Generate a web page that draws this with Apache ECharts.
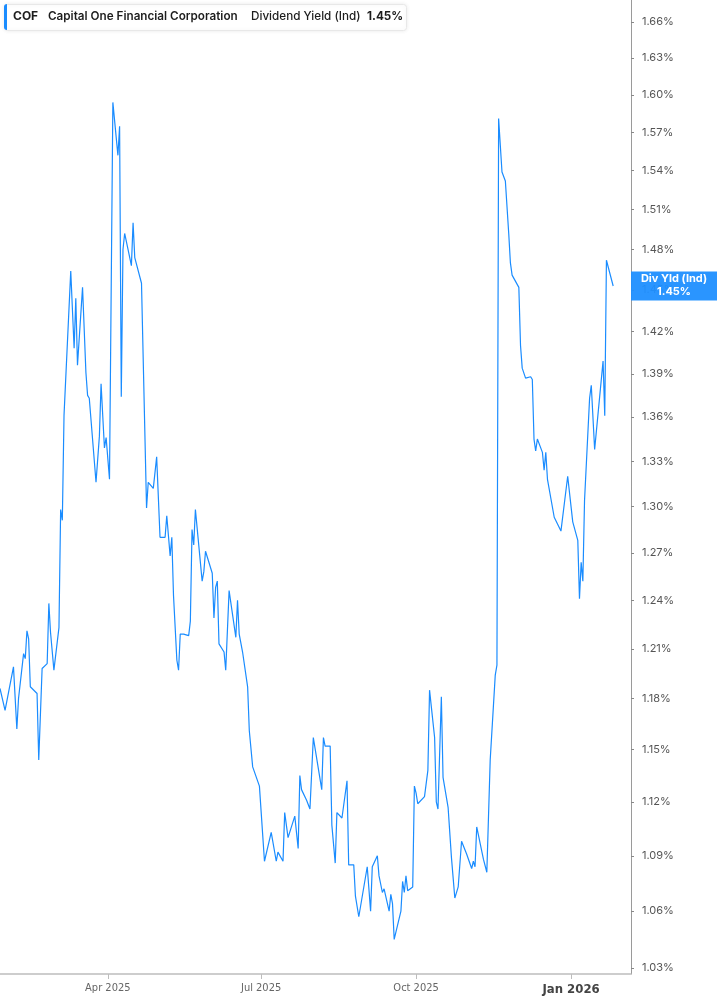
<!DOCTYPE html>
<html>
<head>
<meta charset="utf-8">
<title>COF Dividend Yield</title>
<script src="https://cdn.jsdelivr.net/npm/echarts@6.0.0/dist/echarts.min.js"></script>
<style>
  html, body { margin: 0; padding: 0; background: #fff; }
  #chart { width: 717px; height: 1005px; }
</style>
</head>
<body>
<div id="chart"></div>
<script>
// dividend yield (ind)
const dates = [
  '2025-01-27', '2025-01-30', '2025-02-04', '2025-02-06', '2025-02-07', '2025-02-10', '2025-02-11', '2025-02-12',
  '2025-02-13', '2025-02-14', '2025-02-18', '2025-02-19', '2025-02-21', '2025-02-24', '2025-02-25', '2025-02-26',
  '2025-02-27', '2025-02-28', '2025-03-03', '2025-03-04', '2025-03-05', '2025-03-06', '2025-03-10', '2025-03-12',
  '2025-03-13', '2025-03-14', '2025-03-17', '2025-03-19', '2025-03-20', '2025-03-21', '2025-03-25', '2025-03-27',
  '2025-03-28', '2025-03-30', '2025-03-31', '2025-04-02', '2025-04-04', '2025-04-07', '2025-04-08', '2025-04-09',
  '2025-04-10', '2025-04-11', '2025-04-13', '2025-04-15', '2025-04-16', '2025-04-17', '2025-04-21', '2025-04-24',
  '2025-04-25', '2025-04-28', '2025-04-30', '2025-05-01', '2025-05-02', '2025-05-05', '2025-05-06', '2025-05-08',
  '2025-05-09', '2025-05-10', '2025-05-12', '2025-05-13', '2025-05-14', '2025-05-16', '2025-05-19', '2025-05-20',
  '2025-05-21', '2025-05-22', '2025-05-23', '2025-05-27', '2025-05-28', '2025-05-29', '2025-06-02', '2025-06-03',
  '2025-06-04', '2025-06-05', '2025-06-06', '2025-06-09', '2025-06-10', '2025-06-11', '2025-06-12', '2025-06-16',
  '2025-06-17', '2025-06-18', '2025-06-20', '2025-06-23', '2025-06-24', '2025-06-26', '2025-06-30', '2025-07-03',
  '2025-07-07', '2025-07-10', '2025-07-11', '2025-07-14', '2025-07-15', '2025-07-17', '2025-07-21', '2025-07-23',
  '2025-07-24', '2025-07-25', '2025-07-28', '2025-07-29', '2025-07-30', '2025-07-31', '2025-08-01', '2025-08-06',
  '2025-08-07', '2025-08-08', '2025-08-11', '2025-08-12', '2025-08-13', '2025-08-14', '2025-08-15', '2025-08-18',
  '2025-08-19', '2025-08-20', '2025-08-21', '2025-08-22', '2025-08-25', '2025-08-26', '2025-08-27', '2025-08-28',
  '2025-08-29', '2025-09-02', '2025-09-04', '2025-09-05', '2025-09-08', '2025-09-09', '2025-09-11', '2025-09-12',
  '2025-09-15', '2025-09-16', '2025-09-17', '2025-09-18', '2025-09-22', '2025-09-23', '2025-09-24', '2025-09-25',
  '2025-09-26', '2025-09-29', '2025-09-30', '2025-10-01', '2025-10-02', '2025-10-06', '2025-10-08', '2025-10-09',
  '2025-10-12', '2025-10-13', '2025-10-14', '2025-10-16', '2025-10-17', '2025-10-20', '2025-10-22', '2025-10-23',
  '2025-10-24', '2025-10-26', '2025-10-28', '2025-10-29', '2025-10-31', '2025-11-03', '2025-11-04', '2025-11-05',
  '2025-11-06', '2025-11-10', '2025-11-12', '2025-11-14', '2025-11-17', '2025-11-18', '2025-11-19', '2025-11-20',
  '2025-11-21', '2025-11-23', '2025-11-25', '2025-11-26', '2025-11-27', '2025-12-01', '2025-12-02', '2025-12-03',
  '2025-12-05', '2025-12-08', '2025-12-09', '2025-12-10', '2025-12-11', '2025-12-12', '2025-12-15', '2025-12-16',
  '2025-12-17', '2025-12-18', '2025-12-22', '2025-12-26', '2025-12-30', '2026-01-02', '2026-01-05', '2026-01-06',
  '2026-01-07', '2026-01-08', '2026-01-09', '2026-01-12', '2026-01-13', '2026-01-15', '2026-01-20', '2026-01-21',
  '2026-01-22', '2026-01-26'
];
const yields = [
  1.186, 1.173, 1.199, 1.162, 1.180, 1.207, 1.204, 1.221,
  1.216, 1.187, 1.183, 1.144, 1.198, 1.201, 1.238, 1.220,
  1.219, 1.197, 1.223, 1.298, 1.291, 1.361, 1.464, 1.408,
  1.444, 1.396, 1.452, 1.391, 1.375, 1.373, 1.316, 1.347,
  1.383, 1.339, 1.346, 1.318, 1.594, 1.552, 1.575, 1.374,
  1.480, 1.492, 1.480, 1.468, 1.500, 1.474, 1.455, 1.299,
  1.316, 1.312, 1.333, 1.333, 1.280, 1.280, 1.294, 1.268,
  1.280, 1.243, 1.203, 1.197, 1.219, 1.219, 1.218, 1.227,
  1.285, 1.275, 1.298, 1.252, 1.258, 1.271, 1.257, 1.229,
  1.248, 1.252, 1.213, 1.208, 1.197, 1.198, 1.246, 1.217,
  1.240, 1.219, 1.208, 1.187, 1.161, 1.140, 1.129, 1.087,
  1.103, 1.087, 1.092, 1.087, 1.114, 1.100, 1.112, 1.094,
  1.135, 1.127, 1.121, 1.122, 1.116, 1.116, 1.157, 1.127,
  1.157, 1.152, 1.152, 1.107, 1.106, 1.086, 1.114, 1.111,
  1.118, 1.118, 1.132, 1.085, 1.085, 1.068, 1.068, 1.057,
  1.057, 1.084, 1.060, 1.084, 1.090, 1.079, 1.070, 1.072,
  1.060, 1.069, 1.064, 1.045, 1.060, 1.076, 1.070, 1.079,
  1.071, 1.073, 1.129, 1.125, 1.119, 1.123, 1.138, 1.185,
  1.157, 1.120, 1.116, 1.181, 1.134, 1.117, 1.089, 1.089,
  1.067, 1.073, 1.098, 1.098, 1.091, 1.083, 1.087, 1.084,
  1.106, 1.088, 1.081, 1.144, 1.194, 1.200, 1.581, 1.582,
  1.539, 1.532, 1.492, 1.470, 1.461, 1.452, 1.410, 1.394,
  1.387, 1.388, 1.386, 1.345, 1.337, 1.345, 1.336, 1.324,
  1.336, 1.318, 1.293, 1.284, 1.320, 1.290, 1.278, 1.241,
  1.264, 1.252, 1.304, 1.373, 1.382, 1.338, 1.399, 1.361,
  1.472, 1.453
];
const yTicks = [1.03, 1.06, 1.09, 1.12, 1.15, 1.18, 1.21, 1.24, 1.27, 1.30, 1.33,
  1.36, 1.39, 1.42, 1.45, 1.48, 1.51, 1.54, 1.57, 1.60, 1.63, 1.66];
const monthNames = ['Jan', 'Feb', 'Mar', 'Apr', 'May', 'Jun', 'Jul', 'Aug', 'Sep', 'Oct', 'Nov', 'Dec'];

const ticker = 'COF';
const company = 'Capital One Financial Corporation';
const metric = 'Dividend Yield (Ind)';
const shortMetric = 'Div Yld (Ind)';

const lineColor = '#1a8cff';
const lastVal = yields[yields.length - 1].toFixed(2) + '%';
const DAY = 24 * 3600 * 1000;

const chart = echarts.init(document.getElementById('chart'));

const option = {
  animation: false,
  backgroundColor: '#fff',
  grid: {
    left: 0,
    right: 86,
    top: 0,
    bottom: 31,
    containLabel: false,
    outerBoundsMode: 'none'
  },
  xAxis: {
    type: 'time',
    min: '2025-01-27',
    max: '2026-02-05T14:00:00',
    // quarterly ticks
    splitNumber: 4,
    minInterval: 95 * DAY,
    maxInterval: 120 * DAY,
    splitLine: { show: false },
    axisLine: { show: true, lineStyle: { color: '#bdbdbd', width: 1.5 } },
    axisTick: { show: true, length: 5, lineStyle: { color: '#bdbdbd' } },
    axisLabel: {
      margin: 9,
      color: '#666',
      fontSize: 11,
      fontFamily: 'Liberation Sans Narrow, DejaVu Sans Condensed, sans-serif',
      formatter: function (val) {
        const d = new Date(val);
        const s = monthNames[d.getMonth()] + ' ' + d.getFullYear();
        return d.getMonth() === 0 ? '{yr|' + s + '}' : s;
      },
      rich: {
        yr: {
          fontSize: 13,
          fontWeight: 'bold',
          color: '#444',
          fontFamily: 'Liberation Sans Narrow, DejaVu Sans Condensed, sans-serif'
        }
      }
    }
  },
  yAxis: {
    type: 'log',
    logBase: 10,
    position: 'right',
    min: 1.0269,
    max: 1.6785,
    splitLine: { show: false },
    axisLine: { show: true, lineStyle: { color: '#9a9a9a', width: 1 } },
    axisTick: { show: true, length: 3, lineStyle: { color: '#888' }, customValues: yTicks },
    axisLabel: {
      customValues: yTicks,
      margin: 11,
      color: '#555',
      fontSize: 11,
      fontFamily: 'Inter, Roboto, sans-serif',
      formatter: function (v) { return v.toFixed(2) + '%'; }
    }
  },
  series: [{
    name: metric,
    type: 'line',
    showSymbol: false,
    symbol: 'none',
    lineStyle: { color: lineColor, width: 1.2 },
    data: dates.map(function (d, i) { return [d, yields[i]]; })
  }]
};

chart.setOption(option);

// end label box sits on the y axis at the last value
const yEnd = chart.convertToPixel({ yAxisIndex: 0 }, yields[yields.length - 1]);
const boxH = 29;

chart.setOption({
  graphic: [
    {
      type: 'rect', left: 4, top: 4, z: 100,
      shape: { width: 402, height: 26, r: 3 },
      style: { fill: '#fff', stroke: '#e8e8e8', lineWidth: 1, shadowBlur: 4, shadowColor: 'rgba(0,0,0,0.08)' }
    },
    {
      type: 'rect', left: 4, top: 4, z: 101,
      shape: { width: 3, height: 26, r: [3, 0, 0, 3] },
      style: { fill: lineColor }
    },
    {
      type: 'text', left: 13, top: 10, z: 102,
      style: { text: ticker, font: 'bold 12px Inter, Roboto, sans-serif', fill: '#1d1d1d' }
    },
    {
      type: 'text', left: 48, top: 10, z: 102,
      style: { text: company, font: '600 11.7px Inter, Roboto, sans-serif', fill: '#1d1d1d' }
    },
    {
      type: 'text', left: 251, top: 10, z: 102,
      style: { text: metric, font: '500 11.7px Inter, Roboto, sans-serif', fill: '#1d1d1d' }
    },
    {
      type: 'text', left: 367, top: 10, z: 102,
      style: { text: lastVal, font: 'bold 11.7px Inter, Roboto, sans-serif', fill: '#1d1d1d' }
    },
    {
      type: 'rect', z: 100,
      shape: { x: 631, y: yEnd - boxH / 2, width: 86, height: boxH },
      style: { fill: '#1f8fff', opacity: 0.95 }
    },
    {
      type: 'text', z: 101,
      x: 674, y: yEnd - 7,
      style: { text: shortMetric, align: 'center', verticalAlign: 'middle', font: 'bold 11px Inter, Roboto, sans-serif', fill: '#fff' }
    },
    {
      type: 'text', z: 101,
      x: 674, y: yEnd + 6,
      style: { text: lastVal, align: 'center', verticalAlign: 'middle', font: 'bold 11px Inter, Roboto, sans-serif', fill: '#fff' }
    }
  ]
});
</script>
</body>
</html>
